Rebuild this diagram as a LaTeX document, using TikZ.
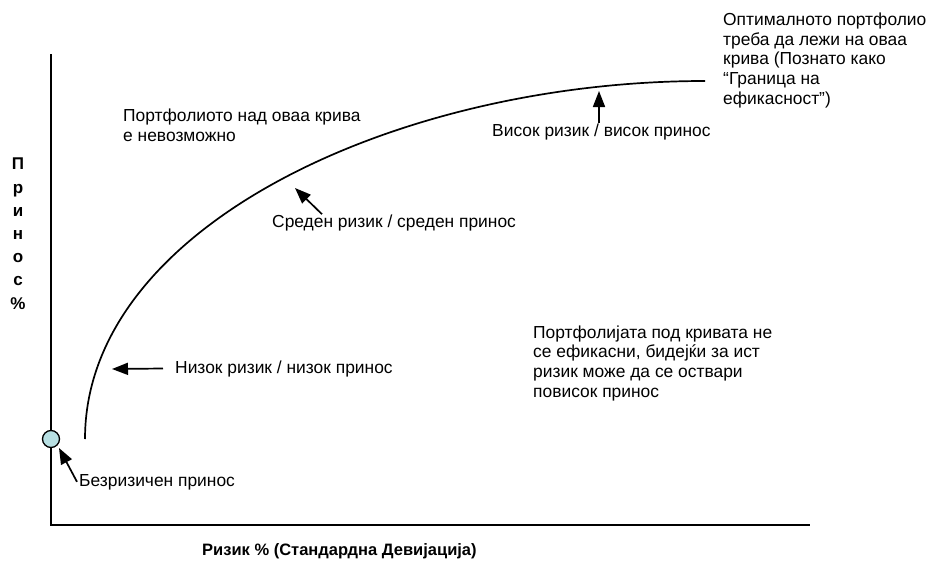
\documentclass[tikz,border=0pt]{standalone}
\usepackage{fontspec}
\setmainfont{Liberation Sans}
\usetikzlibrary{arrows.meta, calc, positioning}
\definecolor{dotcyan}{RGB}{183,223,226}

\tikzset{
  curveline/.style={line width=1.7pt},
  pointer/.style={line width=1.7pt, -{Triangle[length=16pt, width=12pt]}},
  note/.style={inner sep=0pt, align=left, font=\fontsize{17.4}{19.6}\selectfont},
  axislabel/.style={inner sep=0pt, font=\fontsize{17}{23.2}\selectfont\bfseries},
  riskdot/.style={circle, draw, line width=1.3pt, fill=dotcyan, minimum size=17pt, inner sep=0pt},
}

\begin{document}
\begin{tikzpicture}[x=1pt, y=-1pt]
    \useasboundingbox (0,0) rectangle (929,562);

    % Axes
    \coordinate (ytop) at (51,54);
    \coordinate (origin) at (51,525);
    \coordinate (xend) at (810,525);
    \draw[curveline] (ytop) -- (origin) -- (xend);

    % last line of a stacked node sits on the given point
    \node[axislabel, align=center, anchor=base] (ylab) at (18,309) {П\\р\\и\\н\\о\\с\\\%};
    \node[axislabel, font=\fontsize{16.5}{20}\selectfont\bfseries, anchor=base west] (xlab) at (202,555) {Ризик \% (Стандардна Девијација)};

    % Efficient frontier
    \coordinate (fstart) at (85,439);
    \coordinate (fend) at (705,81);
    \draw[curveline] (fstart) .. controls (85,226) and (398,81) .. (fend);

    % Risk free point
    \node[riskdot] (rf) at (51,439) {};

    % Labels
    \node[note, anchor=base west] (above) at (123,141.5) {Портфолиото над оваа крива\\е невозможно};
    \node[note, anchor=base west] (optimal) at (723,104) {Оптималното портфолио\\треба да лежи на оваа\\крива (Познато како\\“Граница на\\ефикасност”)};
    \node[note, anchor=base west] (below) at (533,397) {Портфолијата под кривата не\\се ефикасни, бидејќи за ист\\ризик може да се оствари\\повисок принос};

    \node[note, anchor=base west] (rfree) at (79,486) {Безризичен принос};
    \node[note, anchor=base west] (low) at (175,373) {Низок ризик / низок принос};
    \node[note, anchor=base west] (mid) at (272,227) {Среден ризик / среден принос};
    \node[note, anchor=base west] (high) at (492,136) {Висок ризик / висок принос};

    % Pointers
    \coordinate (rftip) at (59,448);
    \coordinate (lowtip) at (112,369);
    \coordinate (midtip) at (295,188);
    \coordinate (hightip) at (599,91);

    \draw[pointer] ([xshift=-2pt]rfree.west) -- (rftip);
    \draw[pointer] ([xshift=-12pt]low.west) -- (lowtip);
    \draw[pointer] ([xshift=50pt]mid.north west) -- (midtip);
    \draw[pointer] (hightip |- high.north) -- (hightip);
\end{tikzpicture}
\end{document}
